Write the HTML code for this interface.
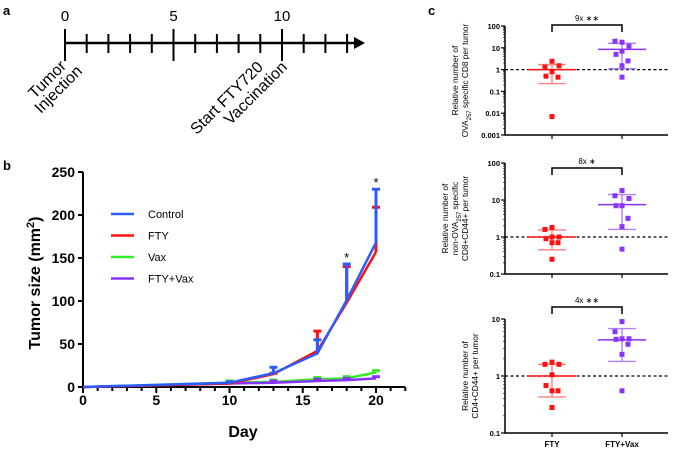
<!DOCTYPE html>
<html><head><meta charset="utf-8">
<style>
html,body{margin:0;padding:0;background:#fff;}
svg{display:block;font-family:"Liberation Sans",Arial,sans-serif;}
</style></head>
<body>
<svg id="fig" width="677" height="451" viewBox="0 0 677 451" xmlns="http://www.w3.org/2000/svg">
<g id="pa">
<text x="3" y="15" font-size="13" font-weight="bold">a</text>
</g>
<g id="pb">
<text x="3" y="170" font-size="13" font-weight="bold">b</text>
</g>
<g id="pc">
<text x="428" y="15" font-size="13" font-weight="bold">c</text>
</g>
</svg>
<script>
// ---------- Panel b data ----------
const days = [0, 10, 13, 16, 18, 20];
const controlVals = [0, 5, 16, 39, 101, 168];
const controlErr  = [0, 6, 23, 55, 143, 230];
const ftyVals     = [0, 4, 15, 42, 98, 157];
const ftyErr      = [0, 5, 16, 65, 140, 209];
const vaxVals     = [0, 5, 6, 9, 10, 17];
const ftyVaxVals  = [0, 4, 5, 7, 8, 10];
const yTicksB = [0, 50, 100, 150, 200, 250];
const xTicksB = [0, 5, 10, 15, 20];
const seriesNames = ["Control", "FTY", "Vax", "FTY+Vax"];
// ---------- Panel c data ----------
const c1Fty = [2.4, 1.3, 1.5, 0.8, 0.5, 0.45, 0.007];
const c1FtyVax = [18, 20, 12, 7, 5, 2.5, 1.5, 0.45];
const c1Stats = [[1, 1.7, 0.23], [8.5, 16, 1.1]];
const c2Fty = [1.8, 1.6, 1.0, 1.0, 0.9, 0.7, 0.7, 0.25];
const c2FtyVax = [18, 13, 11, 7, 7, 3.2, 1.9, 0.47];
const c2Stats = [[1, 1.55, 0.45], [7.5, 14, 1.6]];
const c3Fty = [1.75, 1.6, 1.6, 1.05, 0.68, 0.55, 0.55, 0.28];
const c3FtyVax = [9, 6, 4.5, 4.5, 4.4, 3.6, 2.4, 0.55];
const c3Stats = [[1, 1.6, 0.43], [4.3, 6.8, 1.8]];
const categories = ["FTY", "FTY+Vax"];

const NS = "http://www.w3.org/2000/svg";
function mk(parent, tag, attrs, text) {
  const e = document.createElementNS(NS, tag);
  for (const k in attrs) e.setAttribute(k, attrs[k]);
  if (text !== undefined) e.textContent = text;
  parent.appendChild(e);
  return e;
}
const pa = document.getElementById("pa"), pb = document.getElementById("pb"), pc = document.getElementById("pc");

// ---------- Panel a ----------
(function () {
  const tx = d => 65 + d * 21.7;
  let l = mk(pa, "line", {x1: 65, y1: 43, x2: 356, y2: 43, stroke: "#000", "stroke-width": 2.5});
   
  let ah = mk(pa, "polygon", {points: "354,37 365,43 354,49", fill: "#000"});
   
  for (let d = 0; d <= 13; d++) {
    const major = d % 5 === 0;
    const t = mk(pa, "line", {x1: tx(d), x2: tx(d), y1: major ? 29 : 34, y2: major ? 61 : 53, stroke: "#000", "stroke-width": 2});
     
    if (major) {
      const tl = mk(pa, "text", {x: tx(d), y: 21, "font-size": 15, "text-anchor": "middle"}, String(d));
       
    }
  }
  const labels = [[67, 67, "Tumor"], [83, 72, "Injection"], [264, 68, "Start FTY720"], [288, 68, "Vaccination"]];
  labels.forEach(([x, y, s]) => {
    const t = mk(pa, "text", {x: x, y: y, "font-size": 16, "text-anchor": "end", transform: `rotate(-45 ${x} ${y})`}, s);
     
  });
})();

// ---------- Panel b ----------
(function () {
  const X = d => 83 + d * 14.65;
  const Y = v => 387 - v * 0.86;
  let ax = mk(pb, "path", {d: `M${X(0)},${Y(250)} H${X(0) - 5} M${X(0)},${Y(250)} V${Y(0)} H${X(22)}`, stroke: "#000", "stroke-width": 2, fill: "none"});
   
  yTicksB.forEach(v => {
    const t = mk(pb, "line", {x1: X(0) - 5, x2: X(0), y1: Y(v), y2: Y(v), stroke: "#000", "stroke-width": 2});
     
    const tl = mk(pb, "text", {x: X(0) - 8, y: Y(v) + 5, "font-size": 14, "font-weight": "bold", "text-anchor": "end"}, String(v));
     
  });
  for (let d = 0; d <= 22; d++) {
    const major = d % 5 === 0;
    const t = mk(pb, "line", {x1: X(d), x2: X(d), y1: Y(0), y2: Y(0) + (major ? 6 : 4), stroke: "#000", "stroke-width": 2});
     
  }
  xTicksB.forEach(d => {
    const tl = mk(pb, "text", {x: X(d), y: 405, "font-size": 14, "font-weight": "bold", "text-anchor": "middle"}, String(d));
     
  });
  let xt = mk(pb, "text", {x: 243, y: 437, "font-size": 16, "font-weight": "bold", "text-anchor": "middle"}, "Day");
   
  let yt = mk(pb, "text", {x: 40, y: 283, "font-size": 16, "font-weight": "bold", "text-anchor": "middle", transform: "rotate(-90 40 283)"});
   
  mk(yt, "tspan", {}, "Tumor size (mm");
  mk(yt, "tspan", {"font-size": 11, dy: -6}, "2");
  mk(yt, "tspan", {"font-size": 16, dy: 6}, ")");

  const colors = ["#2b5cff", "#ff1010", "#33ee22", "#8833ff"];
  const vals = [controlVals, ftyVals, vaxVals, ftyVaxVals];
  const errs = [controlErr, ftyErr, null, null];
  const order = [2, 3, 1, 0];
  order.forEach(i => {
    if (errs[i]) days.forEach((d, k) => {
      if (errs[i][k] <= vals[i][k]) return;
      const e = mk(pb, "path", {d: `M${X(d)},${Y(vals[i][k])} V${Y(errs[i][k])} M${X(d) - 4},${Y(errs[i][k])} H${X(d) + 4}`, stroke: colors[i], "stroke-width": 3, fill: "none"});
       
    });
    if (!errs[i]) days.forEach((d, k) => {
      if (d === 0) return;
      const e = mk(pb, "line", {x1: X(d) - 4, x2: X(d) + 4, y1: Y(vals[i][k] + 2), y2: Y(vals[i][k] + 2), stroke: colors[i], "stroke-width": 3});
       
    });
    const pts = days.map((d, k) => `${X(d)},${Y(vals[i][k])}`).join(" ");
    const pl = mk(pb, "polyline", {points: pts, stroke: colors[i], "stroke-width": 2.5, fill: "none"});
    
    
  });
  [[18, 150], [20, 237]].forEach(([d, v]) => {
    const s = mk(pb, "text", {x: X(d), y: Y(v) + 4, "font-size": 13, "text-anchor": "middle"}, "*");
     
  });
  seriesNames.forEach((n, i) => {
    const y = 214 + i * 21.5;
    const l = mk(pb, "line", {x1: 111, x2: 134, y1: y, y2: y, stroke: colors[i], "stroke-width": 2.5});
     
    const t = mk(pb, "text", {x: 148, y: y + 4, "font-size": 11}, n);
     
  });
})();

// ---------- Panel c ----------
function logPanel(cfg) {
  const {top, bottom, maxExp, minExp, fty, ftyVax, stats, title, fold, star, bracketY, showCats, lbl} = cfg;
  const axX = 505, endX = 668;
  const Y = v => top + (maxExp - Math.log10(v)) * (bottom - top) / (maxExp - minExp);
  const catX = [552, 622];
  const g = mk(pc, "g", {});
   
  const ax = mk(g, "path", {d: `M${axX},${top} V${bottom} H${endX}`, stroke: "#000", "stroke-width": 1.5, fill: "none"});
   
  for (let e = minExp; e <= maxExp; e++) {
    const t = mk(g, "line", {x1: axX - 4, x2: axX, y1: Y(10 ** e), y2: Y(10 ** e), stroke: "#000", "stroke-width": 1.2});
     
    const lab = ({"-3": "0.001", "-2": "0.01", "-1": "0.1", "0": "1", "1": "10", "2": "100"})[e];
    const tl = mk(g, "text", {x: axX - 5, y: Y(10 ** e) + 3, "font-size": 7.5, "font-weight": "bold", "text-anchor": "end"}, lab);
     
    if (e < maxExp) for (let m = 2; m <= 9; m++) {
      const mt = mk(g, "line", {x1: axX - 2, x2: axX, y1: Y(m * 10 ** e), y2: Y(m * 10 ** e), stroke: "#000", "stroke-width": 0.6});
       
    }
  }
  catX.forEach(x => {
    const t = mk(g, "line", {x1: x, x2: x, y1: bottom, y2: bottom + 4, stroke: "#000", "stroke-width": 1.2});
     
  });
  const ref = mk(g, "line", {x1: axX, x2: endX, y1: Y(1), y2: Y(1), stroke: "#000", "stroke-width": 1.2, "stroke-dasharray": "3,2.5"});
   
  const cols = ["#ff1010", "#8833ff"], lightCols = ["#ff8080", "#b080ff"];
  [fty, ftyVax].forEach((arr, ci) => {
    const [m, hi, lo] = stats[ci], cx = catX[ci];
    const sd = mk(g, "path", {d: `M${cx},${Y(hi)} V${Y(lo)} M${cx - 14},${Y(hi)} H${cx + 14} M${cx - 14},${Y(lo)} H${cx + 14}`, stroke: lightCols[ci], "stroke-width": 1.4, fill: "none"});
     
    const mn = mk(g, "line", {x1: cx - 24, x2: cx + 24, y1: Y(m), y2: Y(m), stroke: cols[ci], "stroke-width": 1.5});
     
    arr.forEach((v, k) => {
      const off = [0, -7, 7, 0, -6, 6, 0, 0][k % 8];
      const p = mk(g, "rect", {x: cx + off - 2.5, y: Y(v) - 2.5, width: 5, height: 5, fill: cols[ci]});
       
    });
  });
  const br = mk(g, "path", {d: `M${catX[0]},${bracketY + 7} V${bracketY} H${catX[1]} V${bracketY + 7}`, stroke: "#000", "stroke-width": 1.5, fill: "none"});
   
  const ft = mk(g, "text", {x: 587, y: bracketY - 4, "font-size": 8, "text-anchor": "middle"}, fold + " " + star);
   
  const cy = (top + bottom) / 2;
  const tt = mk(g, "text", {x: 0, y: 0, "font-size": 8.3, "text-anchor": "middle", transform: `translate(${lbl},${cy}) rotate(-90)`});
   
  title.forEach((line, i) => {
    const ts = mk(tt, "tspan", {x: 0, dy: i === 0 ? 0 : 10});
    line.forEach(([s, sub]) => { mk(ts, "tspan", sub ? {"font-size": 6, "baseline-shift": "sub"} : {}, s); });
  });
  if (showCats) categories.forEach((c, i) => {
    const t = mk(g, "text", {x: catX[i], y: bottom + 14, "font-size": 8, "font-weight": "bold", "text-anchor": "middle"}, c);
     
  });
}
logPanel({top: 26, bottom: 135, maxExp: 2, minExp: -3, fty: c1Fty, ftyVax: c1FtyVax, stats: c1Stats, fold: "9x", star: "∗∗", bracketY: 25, lbl: 458,
  title: [[["Relative number of"]], [["OVA"], ["257", 1], [" specific CD8 per tumor"]]]});
logPanel({top: 163, bottom: 274, maxExp: 2, minExp: -1, fty: c2Fty, ftyVax: c2FtyVax, stats: c2Stats, fold: "8x", star: "∗", bracketY: 168, lbl: 448,
  title: [[["Relative number of"]], [["non-OVA"], ["257", 1], [" specific"]], [["CD8+CD44+ per tumor"]]]});
logPanel({top: 319, bottom: 433, maxExp: 1, minExp: -1, fty: c3Fty, ftyVax: c3FtyVax, stats: c3Stats, fold: "4x", star: "∗∗", bracketY: 307, showCats: true, lbl: 468,
  title: [[["Relative number of"]], [["CD4+CD44+ per tumor"]]]});
</script>
</body></html>
